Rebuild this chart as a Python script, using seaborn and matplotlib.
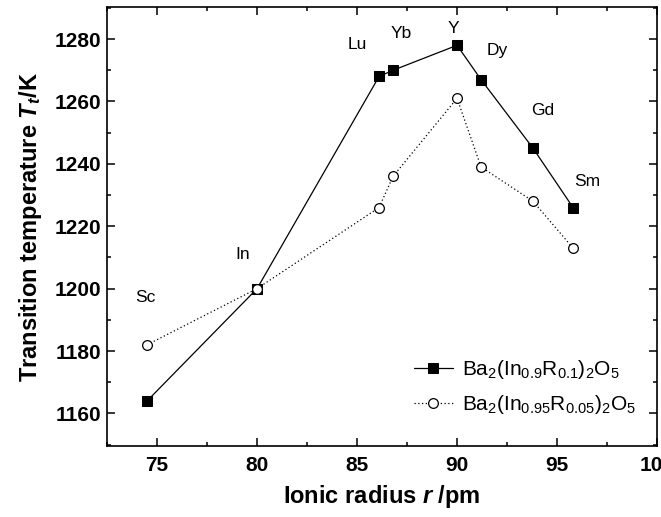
import matplotlib
matplotlib.use("Agg")
import matplotlib.pyplot as plt
import seaborn as sns
import pandas as pd
from matplotlib.ticker import MultipleLocator

elements = ["Sc", "In", "Lu", "Yb", "Y", "Dy", "Gd", "Sm"]
radius = [74.5, 80.0, 86.1, 86.8, 90.0, 91.2, 93.8, 95.8]
t_010 = [1164, 1200, 1268, 1270, 1278, 1267, 1245, 1226]
t_005 = [1182, 1200, 1226, 1236, 1261, 1239, 1228, 1213]
label_x = [74.4, 79.3, 85.0, 87.2, 89.8, 92.0, 94.3, 96.5]
label_y = [1197, 1211, 1278.4, 1281.8, 1283.5, 1276.3, 1257, 1234.2]

sns.set_theme(style="ticks")
plt.rcParams["font.family"] = ["Liberation Sans", "DejaVu Sans"]
plt.rcParams["mathtext.fontset"] = "custom"
plt.rcParams["mathtext.rm"] = "Liberation Sans"
plt.rcParams["mathtext.it"] = "Liberation Sans:italic:bold"
plt.rcParams["mathtext.bf"] = "Liberation Sans:bold"
plt.rcParams["text.color"] = "black"
plt.rcParams["axes.labelcolor"] = "black"

df = pd.DataFrame({"r": radius, "a": t_010, "b": t_005})

fig = plt.figure(figsize=(6.61, 5.17), dpi=100)
ax = fig.add_axes([0.162, 0.137, 0.832, 0.849])

sns.lineplot(data=df, x="r", y="a", ax=ax, sort=False, color="black",
             linewidth=0.9, marker="s", markersize=7, markeredgecolor="black",
             markerfacecolor="black",
             label=r"Ba$_2$(In$_{0.9}$R$_{0.1}$)$_2$O$_5$")
sns.lineplot(data=df, x="r", y="b", ax=ax, sort=False, color="black",
             linewidth=0.9, linestyle=(0, (1, 2)), marker="o", markersize=7,
             markeredgecolor="black", markerfacecolor="white", markeredgewidth=0.9,
             label=r"Ba$_2$(In$_{0.95}$R$_{0.05}$)$_2$O$_5$")

for name, lx, ly in zip(elements, label_x, label_y):
    ax.text(lx, ly, name, fontsize=12.5, ha="center", va="center", color="black")

ax.set_xlim(72.5, 100)
ax.set_ylim(1149.5, 1290.2)
ax.xaxis.set_major_locator(MultipleLocator(5))
ax.xaxis.set_minor_locator(MultipleLocator(2.5))
ax.yaxis.set_major_locator(MultipleLocator(20))
ax.yaxis.set_minor_locator(MultipleLocator(10))
ax.tick_params(which="both", direction="in", top=True, right=True, width=1.1,
               colors="black")
ax.tick_params(which="major", length=6, labelsize=15)
ax.tick_params(axis="x", which="major", pad=7)
ax.tick_params(axis="y", which="major", pad=4)
ax.tick_params(which="minor", length=3)
for lab in ax.get_xticklabels() + ax.get_yticklabels():
    lab.set_fontweight("bold")
for s in ax.spines.values():
    s.set_linewidth(1.2)
    s.set_color("black")

ax.set_xlabel(r"Ionic radius $r$ /pm", fontsize=17, fontweight="bold",
              labelpad=6, color="black")
ax.set_ylabel(r"Transition temperature $T_t$/K", fontsize=17, fontweight="bold",
              labelpad=8, color="black")

leg = ax.legend(loc="lower right", bbox_to_anchor=(0.995, 0.025), frameon=False,
                fontsize=15, handlelength=1.9, handletextpad=0.4, labelspacing=0.6)
for t in leg.get_texts():
    t.set_color("black")

fig.savefig("out.png", dpi=100)
